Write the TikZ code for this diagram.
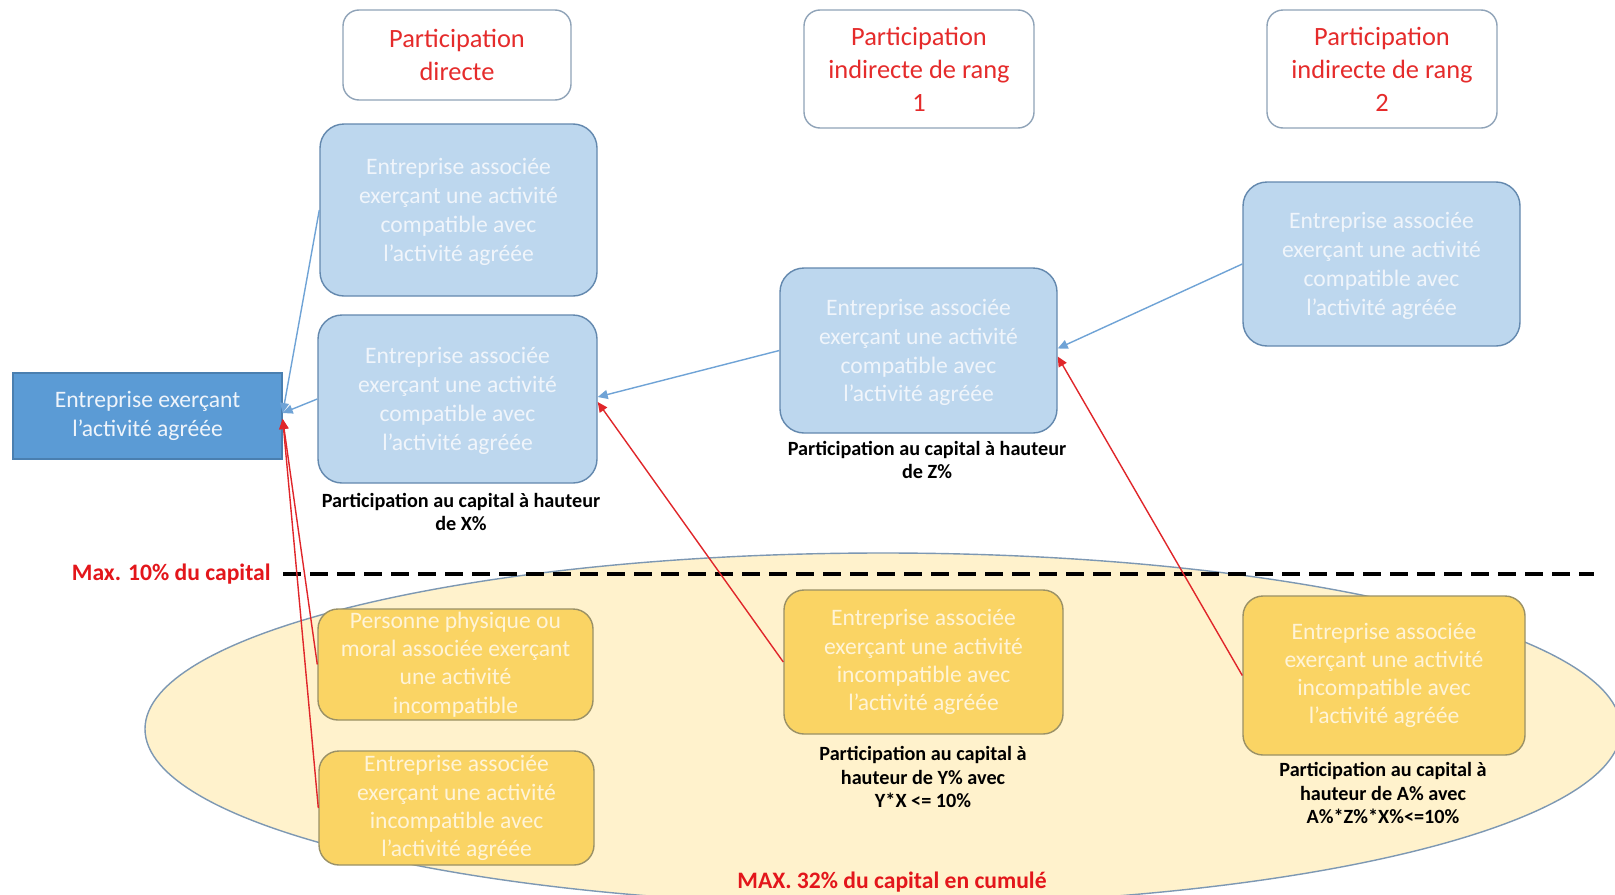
\documentclass[tikz,border=0pt]{standalone}
\usepackage{fontspec}
\setmainfont{Carlito}
\usetikzlibrary{arrows.meta}
\definecolor{hdrred}{HTML}{E52B2B}
\definecolor{hdrline}{HTML}{8FA3B8}
\definecolor{mainfill}{HTML}{5B9BD5}
\definecolor{mainline}{HTML}{4A7FB0}
\definecolor{mtext}{HTML}{EEF4FB}
\definecolor{bfill}{HTML}{BDD7EE}
\definecolor{bline}{HTML}{6388AE}
\definecolor{btext}{HTML}{F0F5FB}
\definecolor{yfill}{HTML}{FAD464}
\definecolor{yline}{HTML}{9A9166}
\definecolor{ytext}{HTML}{FFF4D8}
\definecolor{ellfill}{HTML}{FFF2CC}
\definecolor{ellline}{HTML}{7D98B3}
\definecolor{conblue}{HTML}{6FA3D6}
\definecolor{conred}{HTML}{E0262A}
\definecolor{labred}{HTML}{E3161B}
\tikzset{
  hdrbox/.style={draw=hdrline, line width=0.7pt, fill=white, rounded corners=8pt,
    text=hdrred, font=\fontsize{13.2}{16.5}\selectfont, align=center, inner sep=0pt},
  mainbox/.style={draw=mainline, line width=0.7pt, fill=mainfill, text=mtext,
    font=\fontsize{11.8}{14.4}\selectfont, align=center, inner sep=0pt},
  bluebox/.style={draw=bline, line width=0.7pt, fill=bfill, rounded corners=12pt, text=btext,
    font=\fontsize{11.8}{14.4}\selectfont, align=center, inner sep=0pt, text depth=0pt},
  yelbox/.style={draw=yline, line width=0.7pt, fill=yfill, rounded corners=10pt, text=ytext,
    font=\fontsize{11.8}{14.1}\selectfont, align=center, inner sep=0pt},
  partlab/.style={font=\fontsize{10.1}{11.8}\selectfont\bfseries, align=center, inner sep=0pt, text=black},
  maxlab/.style={font=\fontsize{11.8}{14}\selectfont\bfseries, text=labred, inner sep=0pt},
  cblue/.style={draw=conblue, line width=0.7pt, -{Triangle[length=5pt,width=4.5pt]}},
  cred/.style={draw=conred, line width=0.7pt, -{Triangle[length=5pt,width=4.5pt]}},
}
\begin{document}
\begin{tikzpicture}[x=0.5pt,y=-0.5pt]
\clip (0,0) rectangle (1615,894);
\fill[white] (0,0) rectangle (1615,894);
% ellipse background
\draw[fill=ellfill, draw=ellline, line width=0.7pt] (883,729) ellipse [x radius=369pt, y radius=88pt];
% dashed threshold line
\coordinate (dl) at (283,574);
\coordinate (dr) at (1594,574);
\draw[black, line width=2pt, dash pattern=on 9pt off 4.5pt] (dl) -- (dr);
% headers
\node[hdrbox, minimum width=114pt, minimum height=45pt] (h1) at (457,55) {Participation\\directe};
\node[hdrbox, minimum width=115pt, minimum height=59pt] (h2) at (919,69) {Participation\\indirecte de rang\\1};
\node[hdrbox, minimum width=115pt, minimum height=59pt] (h3) at (1382,69) {Participation\\indirecte de rang\\2};
% main
\node[mainbox, minimum width=134.5pt, minimum height=43pt] (main) at (147.5,416) {Entreprise exerçant\\l’activité agréée};
% blue boxes
\node[bluebox, minimum width=138.5pt, minimum height=86pt] (b1) at (458.5,210) {Entreprise associée\\exerçant une activité\\compatible avec\\l’activité agréée};
\node[bluebox, minimum width=139.5pt, minimum height=84pt] (b2) at (457.5,399) {Entreprise associée\\exerçant une activité\\compatible avec\\l’activité agréée};
\node[bluebox, minimum width=138.5pt, minimum height=82.5pt] (mid) at (918.5,350.5) {Entreprise associée\\exerçant une activité\\compatible avec\\l’activité agréée};
\node[bluebox, minimum width=138.5pt, minimum height=82pt] (rt) at (1381.5,264) {Entreprise associée\\exerçant une activité\\compatible avec\\l’activité agréée};
% yellow boxes
\node[yelbox, minimum width=137.5pt, minimum height=55.5pt] (y1) at (455.5,664.5) {Personne physique ou\\moral associée exerçant\\une activité\\incompatible};
\node[yelbox, minimum width=137.5pt, minimum height=57pt] (y2) at (456.5,808) {Entreprise associée\\exerçant une activité\\incompatible avec\\l’activité agréée};
\node[yelbox, minimum width=139.5pt, minimum height=72pt] (y3) at (923.5,662) {Entreprise associée\\exerçant une activité\\incompatible avec\\l’activité agréée};
\node[yelbox, minimum width=141pt, minimum height=79.5pt] (y4) at (1384,675.5) {Entreprise associée\\exerçant une activité\\incompatible avec\\l’activité agréée};
% labels
\node[partlab] (lx) at (461,512) {Participation au capital à hauteur\\de X\%};
\node[partlab] (lz) at (927,460) {Participation au capital à hauteur\\de Z\%};
\node[partlab] (ly) at (923,777) {Participation au capital à\\hauteur de Y\% avec\\Y*X <= 10\%};
\node[partlab] (la) at (1383,793) {Participation au capital à\\hauteur de A\% avec\\A\%*Z\%*X\%<=10\%};
\node[maxlab, anchor=east] (m10) at (271,574) {Max. 10\% du capital};
\node[maxlab] (m32) at (892,882) {MAX. 32\% du capital en cumulé};
% connectors
\draw[cblue] (b1.west) -- ([yshift=1.5pt]main.east);
\draw[cblue] (b2.west) -- ([yshift=1.5pt]main.east);
\draw[cred] (y1.west) -- ([yshift=-1.5pt]main.east);
\draw[cred] (y2.west) -- ([yshift=-1.5pt]main.east);
\draw[cblue] (mid.west) -- ([yshift=1pt]b2.east);
\draw[cred] (y3.west) -- ([yshift=-1.5pt]b2.east);
\draw[cblue] (rt.west) -- ([yshift=1pt]mid.east);
\draw[cred] (y4.west) -- ([yshift=-3pt]mid.east);
\end{tikzpicture}
\end{document}
